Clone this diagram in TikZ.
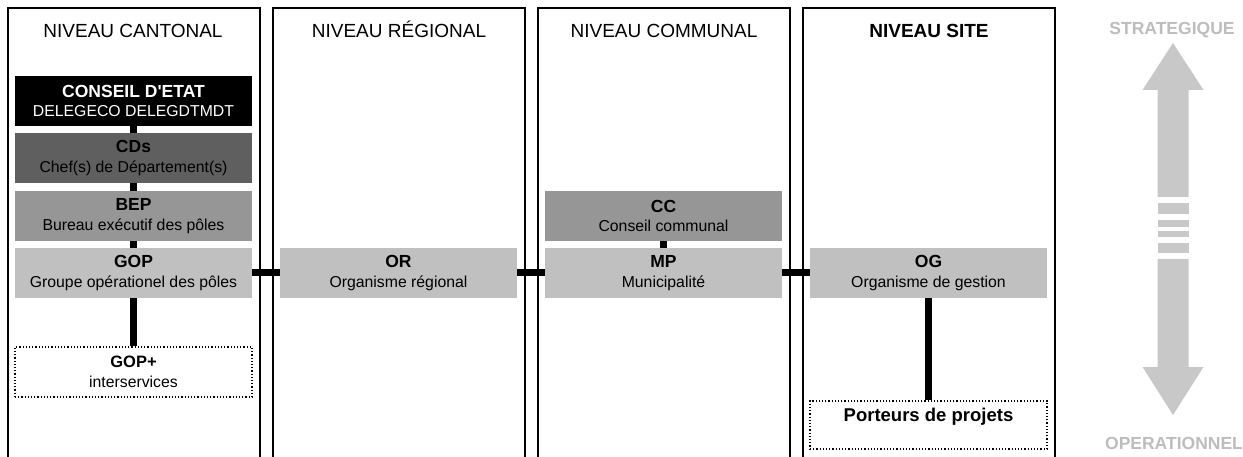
\documentclass[tikz,border=0pt]{standalone}
\usepackage{fontspec}
\setmainfont{Liberation Sans}
\definecolor{dunkelgrau}{HTML}{5F5F5F}
\definecolor{mittelgrau}{HTML}{969696}
\definecolor{hellgrau}{HTML}{C0C0C0}
\definecolor{pfeilgrau}{HTML}{C8C8C8}
\definecolor{textgrau}{HTML}{BDBDBD}
\begin{document}
\begin{tikzpicture}[x=1pt, y=-1pt,
    kasten/.style={minimum width=237pt, minimum height=50pt, inner sep=0pt,
      align=center, font=\fontsize{15.8}{19.5}\selectfont},
    offen/.style={kasten, draw, dotted, line width=1.2pt},
    linie/.style={line width=7pt},
    rahmen/.style={line width=2pt},
    titel/.style={anchor=base, font=\fontsize{19}{22}\selectfont},
    achse/.style={text=textgrau, font=\bfseries\fontsize{17.5}{20}\selectfont}]
        \useasboundingbox (0,0) rectangle (1243,457);

        % Spalten
        \foreach \l in {8,273,538,803}
        \draw[rahmen] (\l,457) -- (\l,8) -- (\l+252,8) -- (\l+252,457);

        \node[titel] (tkanton) at (133,38) {NIVEAU CANTONAL};
        \node[titel] (tregion) at (399,38) {NIVEAU RÉGIONAL};
        \node[titel] (tcommune) at (664,38) {NIVEAU COMMUNAL};
        \node[titel, font=\bfseries\fontsize{19}{22}\selectfont] (tsite) at (929,38) {NIVEAU SITE};

        % Kantonal
        \node[kasten, fill=black, text=white] (etat) at (133.5,101)
        {\textbf{\fontsize{17.5}{19.5}\selectfont CONSEIL D\textquotesingle ETAT}\\DELEGECO DELEGDTMDT};
        \node[kasten, fill=dunkelgrau] (cds) at (133.5,158)
        {\textbf{\fontsize{17.5}{19.5}\selectfont CDs}\\Chef(s) de Département(s)};
        \node[kasten, fill=mittelgrau] (bep) at (133.5,216)
        {\textbf{\fontsize{17.5}{19.5}\selectfont BEP}\\Bureau exécutif des pôles};
        \node[kasten, fill=hellgrau] (gop) at (133.5,273)
        {\textbf{\fontsize{17.5}{19.5}\selectfont GOP}\\Groupe opérationel des pôles};
        \node[offen] (gopplus) at (133.5,372)
        {\textbf{\fontsize{16.5}{19.5}\selectfont GOP+}\\interservices};

        % Regional
        \node[kasten, fill=hellgrau] (or) at (398.5,273)
        {\textbf{\fontsize{17.5}{19.5}\selectfont OR}\\Organisme régional};

        % Communal
        \node[kasten, fill=mittelgrau] (cc) at (663.5,216)
        {\textbf{\fontsize{17.5}{19.5}\selectfont CC}\\Conseil communal};
        \node[kasten, fill=hellgrau] (mp) at (663.5,273)
        {\textbf{\fontsize{17.5}{19.5}\selectfont MP}\\Municipalité};

        % Site
        \node[kasten, fill=hellgrau] (og) at (928.5,273)
        {\textbf{\fontsize{17.5}{19.5}\selectfont OG}\\Organisme de gestion};
        \node[offen, minimum height=48pt, text depth=20pt] (porteurs) at (928.5,425)
        {\textbf{\fontsize{18.5}{20}\selectfont Porteurs de projets}};

        % Verbindungen
        \draw[linie] (etat) -- (cds);
        \draw[linie] (cds) -- (bep);
        \draw[linie] (bep) -- (gop);
        \draw[linie] (gop) -- (gopplus);
        \draw[linie] (cc) -- (mp);
        \draw[linie] (gop) -- (or);
        \draw[linie] (or) -- (mp);
        \draw[linie] (mp) -- (og);
        \draw[linie] (og) -- (porteurs);

        % Pfeil strategisch - operationell
        \fill[pfeilgrau] (1173,43) -- (1203.5,90) -- (1188.5,90) -- (1188.5,197)
        -- (1157.5,197) -- (1157.5,90) -- (1142.5,90) -- cycle;
        \foreach \a/\b in {203/214,220/227,231/237,243/253}
        \fill[pfeilgrau] (1157.5,\a) rectangle (1188.5,\b);
        \fill[pfeilgrau] (1173,415) -- (1203.5,367) -- (1188.5,367) -- (1188.5,259)
        -- (1157.5,259) -- (1157.5,367) -- (1142.5,367) -- cycle;

        \node[achse] (strat) at (1172,30) {STRATEGIQUE};
        \node[achse] (oper) at (1174,443) {OPERATIONNEL};
    \end{tikzpicture}
\end{document}
